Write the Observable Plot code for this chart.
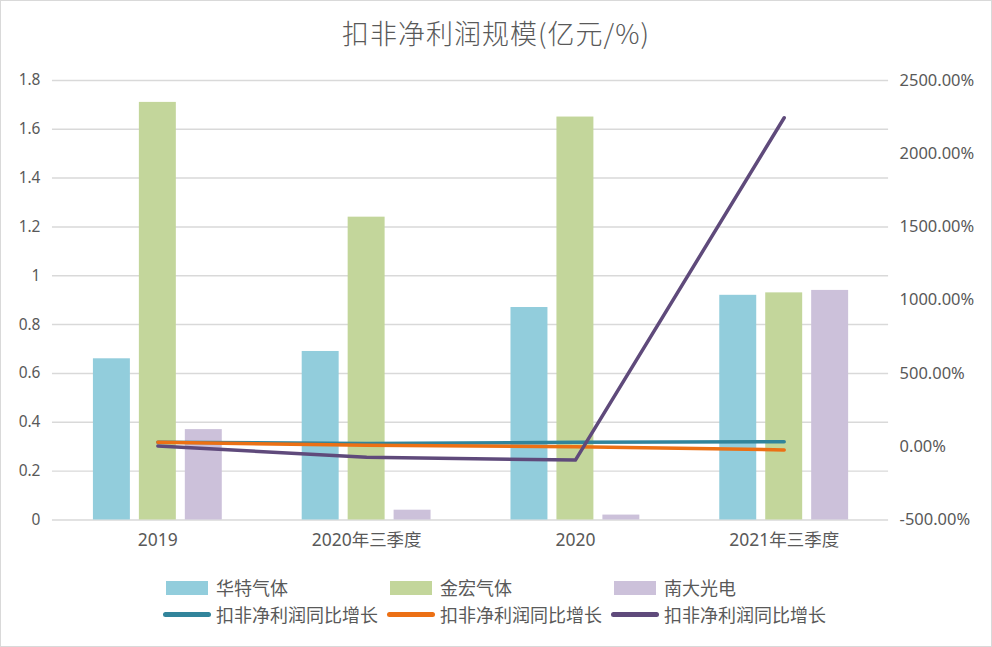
<!DOCTYPE html>
<html><head><meta charset="utf-8">
<script src="https://cdn.jsdelivr.net/npm/d3@7"></script>
<script src="https://cdn.jsdelivr.net/npm/@observablehq/plot@0.6"></script>
<style>
body{margin:0;background:#fff;}
#wrap{position:relative;width:992px;height:647px;box-sizing:border-box;border:1px solid #d9d9d9;font-family:"Noto Sans CJK SC","Noto Sans",sans-serif;color:#595959;overflow:hidden;background:#fff}
#title{position:absolute;top:12px;left:0;width:100%;text-align:center;font-size:27px;letter-spacing:1px;font-weight:300}
#chart{position:absolute;left:-1px;top:-1px;}
.lg{position:absolute;font-size:18px;line-height:22px;white-space:nowrap}
.sw{position:absolute}
</style></head>
<body>
<div id="wrap">
  <div id="chart"></div>
  <div id="title">扣非净利润规模(亿元/%)</div>
  <div id="legend"></div>
</div>
<script>
const categories = ["2019", "2020年三季度", "2020", "2021年三季度"];
const barSeries = ["华特气体", "金宏气体", "南大光电"];
const huate = [0.66, 0.69, 0.87, 0.92];
const jinhong = [1.71, 1.24, 1.65, 0.93];
const nanda = [0.37, 0.04, 0.02, 0.94];
const lineSeries = ["扣非净利润同比增长", "扣非净利润同比增长", "扣非净利润同比增长"];
const growthHuate = [30, 22, 30, 34];
const growthJinhong = [30, 10, 0, -22];
const growthNanda = [5, -72, -91, 2245];
const leftTicks = [0, 0.2, 0.4, 0.6, 0.8, 1, 1.2, 1.4, 1.6, 1.8];
const rightTicks = [-500, 0, 500, 1000, 1500, 2000, 2500];

const barColors = ["#92cddc", "#c3d69b", "#ccc1da"];
const lineColors = ["#31849b", "#ec7014", "#5f4a7b"];

const leftMax = 1.8, rMin = -500, rMax = 2500;
const toLeft = p => (p - rMin) / (rMax - rMin) * leftMax;

const barData = [huate, jinhong, nanda].map((vals, s) =>
  categories.map((c, i) => ({cat: c, value: vals[i], series: barSeries[s]})));
const lineData = [growthHuate, growthJinhong, growthNanda].map((vals, s) =>
  categories.map((c, i) => ({cat: c, pct: vals[i], y: toLeft(vals[i]), series: s})));

const offsets = [-46, 0, 46];
const font = "'Noto Sans','Noto Sans CJK SC',sans-serif";

const plot = Plot.plot({
  width: 992,
  height: 560,
  marginTop: 80,
  marginBottom: 40,
  marginLeft: 52,
  marginRight: 103,
  style: {fontFamily: font, fontSize: "15px", color: "#595959", background: "transparent"},
  x: {domain: categories, padding: 0, label: null},
  y: {domain: [0, leftMax], label: null},
  marks: [
    Plot.ruleY(leftTicks, {stroke: "#d9d9d9", strokeWidth: 1.5}),
    ...barData.map((d, s) => Plot.barY(d, {x: "cat", y: "value", fill: barColors[s], insetLeft: 86, insetRight: 86, dx: offsets[s]})),
    ...lineData.map((d, s) => Plot.line(d, {x: "cat", y: "y", stroke: lineColors[s], strokeWidth: 3.5, strokeLinecap: "round"})),
    Plot.axisY({anchor: "left", ticks: leftTicks, tickSize: 0, tickPadding: 12, tickFormat: d => String(+d.toFixed(1)), fontSize: 15.5, fill: "#595959"}),
    Plot.axisY({anchor: "right", ticks: rightTicks.map(toLeft), tickSize: 0, tickPadding: 11, textAnchor: "start",
      tickFormat: v => (Math.round(v / leftMax * (rMax - rMin) + rMin)).toFixed(2) + "%", fontSize: 16.5, fill: "#595959"}),
    Plot.axisX({tickSize: 0, tickPadding: 14, fontSize: 17.5, fill: "#595959"})
  ]
});
document.getElementById("chart").appendChild(plot);

// Legend
const legend = document.getElementById("legend");
const colX = [165, 389, 613];
barSeries.forEach((name, i) => {
  const sw = document.createElement("div");
  sw.className = "sw";
  Object.assign(sw.style, {left: colX[i] + "px", top: "580px", width: "42px", height: "14px", background: barColors[i]});
  legend.appendChild(sw);
  const t = document.createElement("div");
  t.className = "lg";
  Object.assign(t.style, {left: (colX[i] + 50) + "px", top: "575px"});
  t.textContent = name;
  legend.appendChild(t);
});
lineSeries.forEach((name, i) => {
  const sw = document.createElement("div");
  sw.className = "sw";
  Object.assign(sw.style, {left: (colX[i] - 3) + "px", top: "611px", width: "48px", height: "5px", borderRadius: "3px", background: lineColors[i]});
  legend.appendChild(sw);
  const t = document.createElement("div");
  t.className = "lg";
  Object.assign(t.style, {left: (colX[i] + 50) + "px", top: "602px"});
  t.textContent = name;
  legend.appendChild(t);
});
</script>
</body></html>
